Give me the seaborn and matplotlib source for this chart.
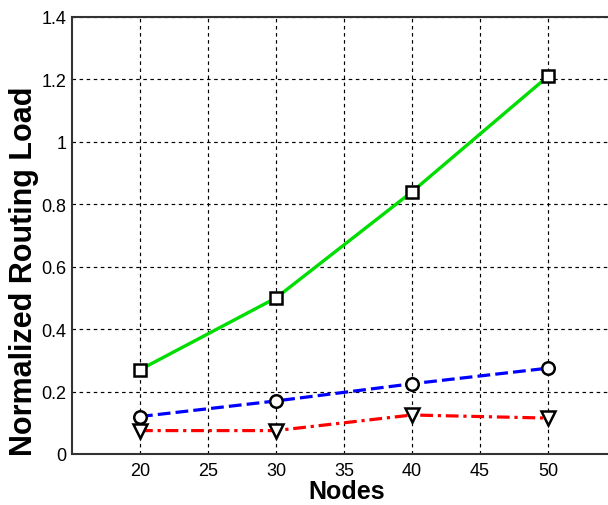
import matplotlib
matplotlib.use("Agg")
import matplotlib.pyplot as plt
import seaborn as sns
import pandas as pd

nodes = [20, 30, 40, 50]
load_square = [0.27, 0.50, 0.84, 1.21]
load_circle = [0.12, 0.17, 0.225, 0.275]
load_triangle = [0.075, 0.075, 0.125, 0.115]
x_ticks = [20, 25, 30, 35, 40, 45, 50]
y_ticks = [0, 0.2, 0.4, 0.6, 0.8, 1.0, 1.2, 1.4]
y_tick_labels = ["0", "0.2", "0.4", "0.6", "0.8", "1", "1.2", "1.4"]

sns.set_style("white")
plt.rcParams["font.family"] = ["Liberation Sans", "DejaVu Sans"]
plt.rcParams["text.color"] = "black"
plt.rcParams["axes.labelcolor"] = "black"

fig = plt.figure(figsize=(6.08, 5.06), dpi=100)
ax = fig.add_axes([72 / 608, 51 / 506, (616 - 72) / 608, (455 - 18) / 506])

series = [
    (load_square, "#00dd00", "-", "s", 2.4, 9),
    (load_circle, "#0000ff", (0, (4, 1.6)), "o", 2.3, 9),
    (load_triangle, "#ff0000", (0, (4, 1.5, 1, 1.5)), "v", 2.3, 10),
]
for vals, color, ls, mk, lw, ms in series:
    df = pd.DataFrame({"Nodes": nodes, "Load": vals})
    sns.lineplot(data=df, x="Nodes", y="Load", ax=ax, color=color, linewidth=lw,
                 linestyle=ls, marker=mk, markersize=ms,
                 markerfacecolor="white", markeredgecolor="black",
                 markeredgewidth=1.8, zorder=3)

ax.set_xlim(15, 55)
ax.set_ylim(0, 1.4)
ax.set_xticks(x_ticks)
ax.set_yticks(y_ticks)
ax.set_yticklabels(y_tick_labels)
ax.grid(True, color="black", linestyle=(0, (3, 3)), linewidth=0.85)
ax.set_axisbelow(True)
for s in ax.spines.values():
    s.set_color("#333333")
    s.set_linewidth(1.5)
ax.tick_params(direction="in", length=4, width=1, labelsize=13, colors="black")
ax.tick_params(axis="y", pad=4)
ax.tick_params(axis="x", pad=6)

ax.set_xlabel("Nodes", fontsize=18, fontweight="bold")
ax.xaxis.label.set(va="baseline", ha="center")
ax.xaxis.set_label_coords((347 - 72) / 544, (506 - 499 - 51) / 437)

ax.set_ylabel("Normalized Routing Load", fontsize=22, fontweight="bold")
ax.yaxis.label.set(va="baseline", ha="center", rotation_mode="anchor")
ax.yaxis.set_label_coords((32 - 72) / 544, (506 - 271 - 51) / 437)

fig.savefig("out.png", dpi=100)
